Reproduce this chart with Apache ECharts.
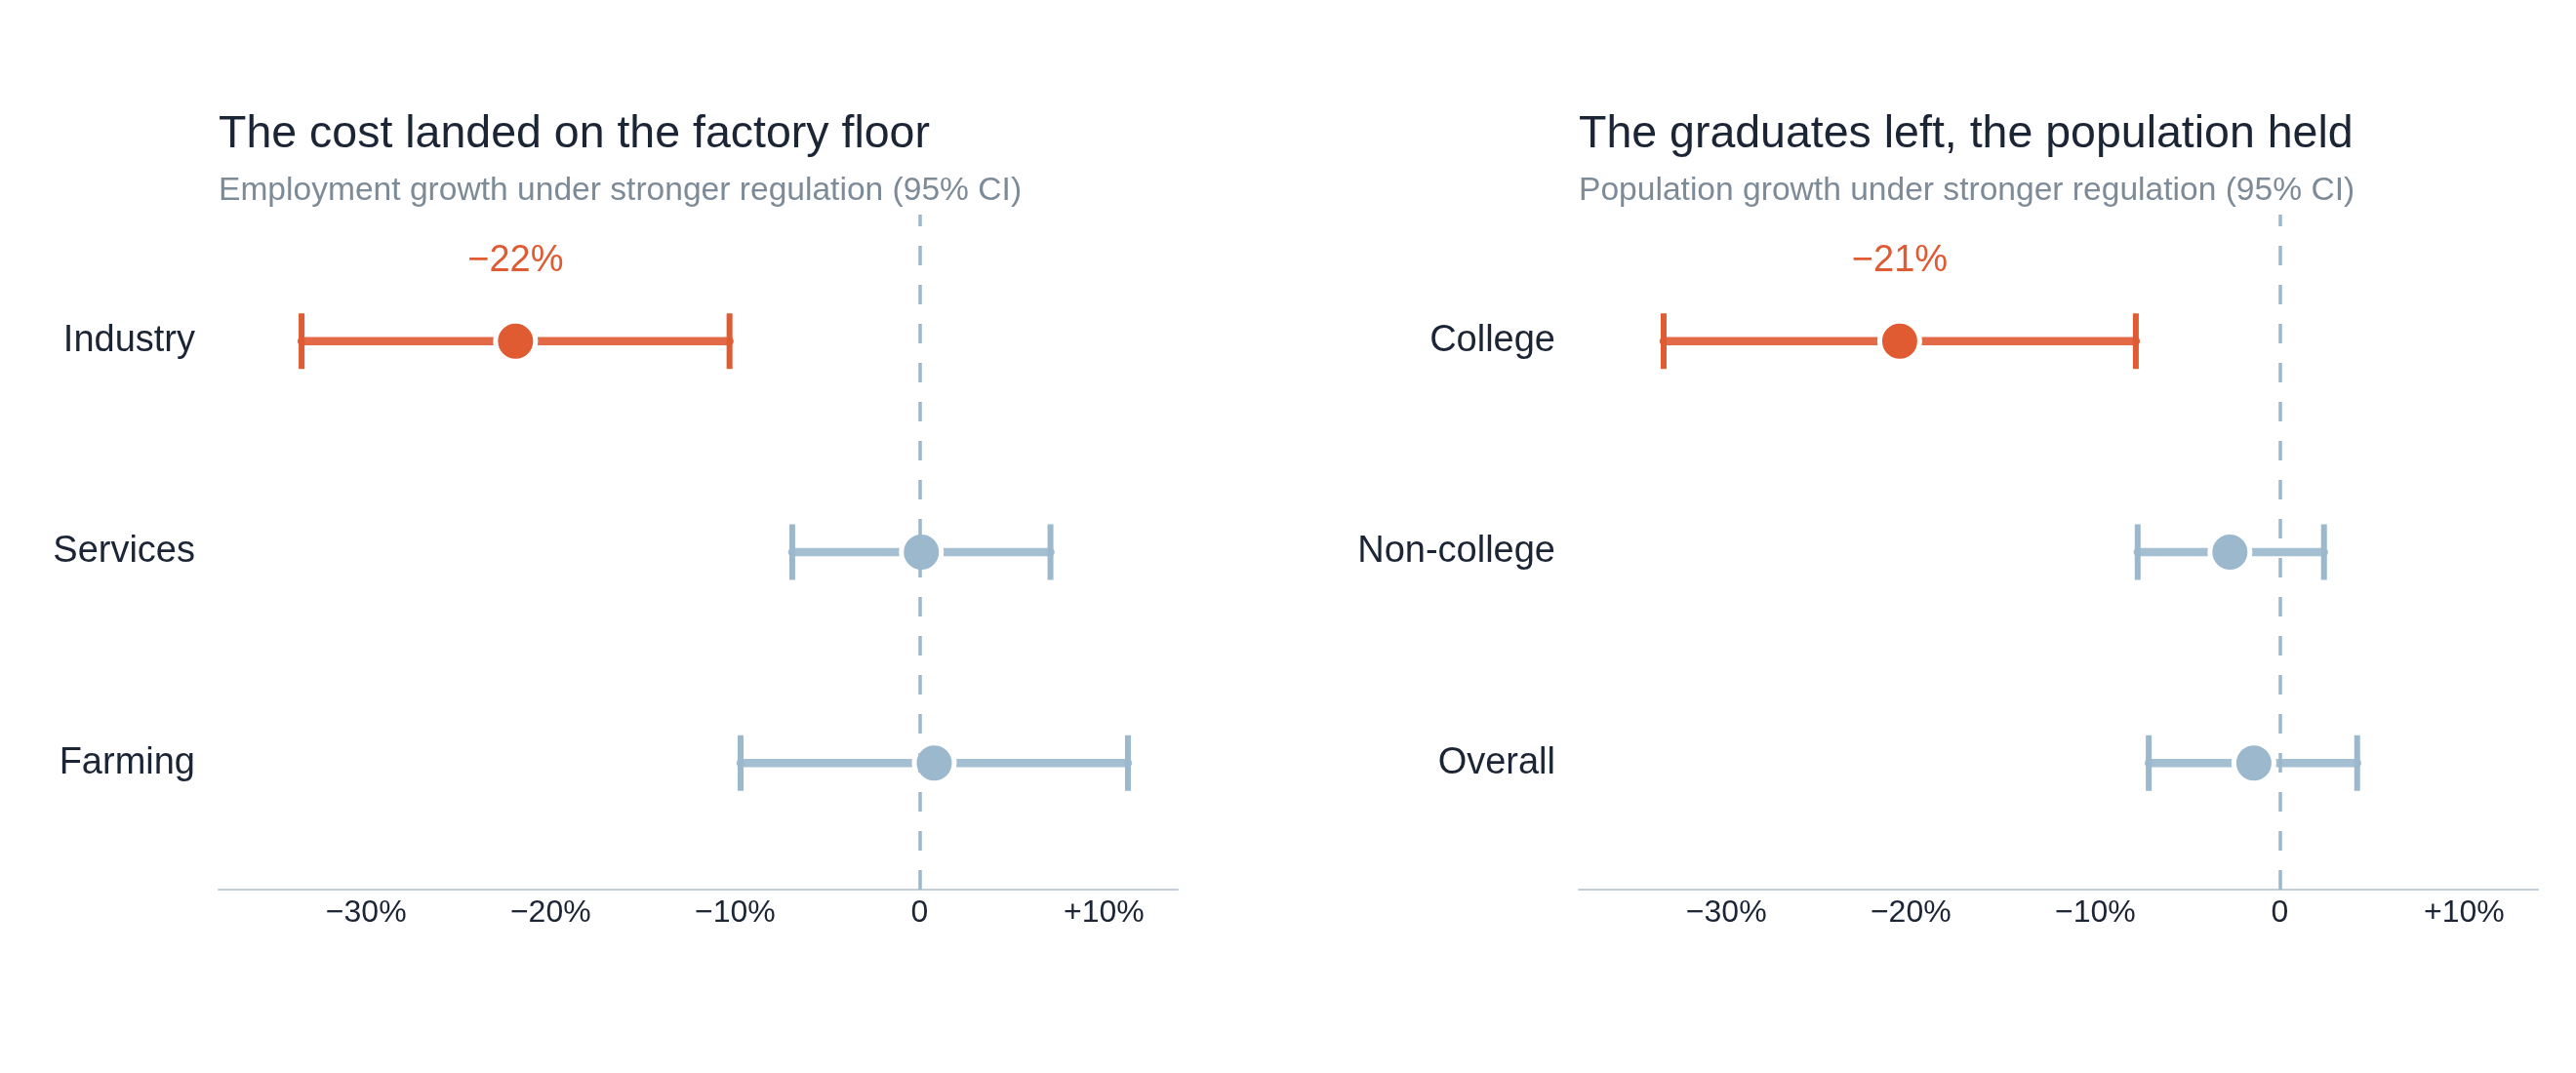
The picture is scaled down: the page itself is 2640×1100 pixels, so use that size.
<!DOCTYPE html>
<html>
<head>
<meta charset="utf-8">
<title>Regulation effects</title>
<script src="https://cdn.jsdelivr.net/npm/echarts@6.0.0/dist/echarts.min.js"></script>
<style>
  html, body { margin: 0; padding: 0; background: #fff; }
  #main { width: 2640px; height: 1100px; }
</style>
</head>
<body>
<div id="main"></div>
<script>
// employment panel
var empCats = ['Industry', 'Services', 'Farming'];
var empEst = [-21.9, 0.1, 0.8];
var empLo = [-33.5, -6.9, -9.7];
var empHi = [-10.3, 7.1, 11.3];

// population panel
var popCats = ['College', 'Non-college', 'Overall'];
var popEst = [-20.6, -2.7, -1.4];
var popLo = [-33.4, -7.7, -7.1];
var popHi = [-7.8, 2.4, 4.2];

var xTicks = [-30, -20, -10, 0, 10];

var RED = '#e05a32';
var BLUE = '#9bb8cd';
var INK = '#1b2535';
var GREY = '#7d8b99';
var FONT = '"Liberation Sans", Arial, Helvetica, sans-serif';

function pct(v) {
  if (v === 0) return '0';
  return (v > 0 ? '+' : '\u2212') + Math.abs(v) + '%';
}

// red when the whole interval sits below zero
function colorOf(lo, hi, i) {
  return hi[i] < 0 ? RED : BLUE;
}

function barSeries(idx, lo, hi) {
  var data = [];
  for (var i = 0; i < lo.length; i++) data.push([lo[i], hi[i], i]);
  return {
    type: 'custom',
    xAxisIndex: idx,
    yAxisIndex: idx,
    silent: true,
    data: data,
    renderItem: function (params, api) {
      var y = api.value(2);
      var a = api.coord([api.value(0), y]);
      var b = api.coord([api.value(1), y]);
      var c = colorOf(lo, hi, params.dataIndex);
      return {
        type: 'group',
        children: [
          {type: 'line', shape: {x1: a[0], y1: a[1], x2: b[0], y2: b[1]},
            style: {stroke: c, lineWidth: 8.5, lineCap: 'round', opacity: 0.9}},
          {type: 'line', shape: {x1: a[0], y1: a[1] - 28.5, x2: a[0], y2: a[1] + 28.5},
            style: {stroke: c, lineWidth: 6}},
          {type: 'line', shape: {x1: b[0], y1: b[1] - 28.5, x2: b[0], y2: b[1] + 28.5},
            style: {stroke: c, lineWidth: 6}}
        ]
      };
    },
    markLine: {
      silent: true,
      symbol: 'none',
      label: {show: false},
      lineStyle: {color: BLUE, width: 3.5, type: [20, 20]},
      data: [[{coord: [0, 2.6]}, {coord: [0, -0.6]}]]
    },
    z: 2
  };
}

function dotSeries(idx, est, lo, hi) {
  var data = [];
  for (var i = 0; i < est.length; i++) {
    var c = colorOf(lo, hi, i);
    data.push({
      value: [est[i], i],
      itemStyle: {color: c},
      label: {show: c === RED}
    });
  }
  return {
    type: 'scatter',
    xAxisIndex: idx,
    yAxisIndex: idx,
    silent: true,
    symbolSize: 41,
    itemStyle: {borderColor: '#fff', borderWidth: 5, opacity: 1},
    label: {
      position: 'top',
      distance: 40,
      color: RED,
      fontSize: 38,
      fontFamily: FONT,
      formatter: function (p) { return pct(Math.round(p.value[0])); }
    },
    data: data,
    z: 3
  };
}

function xAxis(idx) {
  return {
    type: 'value',
    gridIndex: idx,
    min: -38,
    max: 14,
    axisLine: {show: true, onZero: false, lineStyle: {color: '#c1cdd9', width: 2}},
    axisTick: {show: false},
    splitLine: {show: false},
    axisLabel: {
      customValues: xTicks,
      color: INK,
      fontSize: 32,
      fontFamily: FONT,
      margin: 8,
      formatter: function (v) { return pct(v); }
    }
  };
}

function yAxis(idx, cats) {
  return {
    type: 'value',
    gridIndex: idx,
    min: -0.6,
    max: 2.6,
    inverse: true,
    axisLine: {show: false},
    axisTick: {show: false},
    splitLine: {show: false},
    axisLabel: {
      customValues: [0, 1, 2],
      color: INK,
      fontSize: 38,
      fontFamily: FONT,
      margin: 24,
      padding: [10, 0, 0, 0],
      formatter: function (v) { return cats[v]; }
    }
  };
}

var myChart = echarts.init(document.getElementById('main'));

myChart.setOption({
  backgroundColor: '#fff',
  animation: false,
  title: [
    {
      text: 'The cost landed on the factory floor',
      subtext: 'Employment growth under stronger regulation (95% CI)',
      left: 224, top: 115, padding: 0, itemGap: 17,
      textStyle: {color: INK, fontSize: 46.5, fontWeight: 'normal', fontFamily: FONT, lineHeight: 46},
      subtextStyle: {color: GREY, fontSize: 33.6, fontFamily: FONT, lineHeight: 34}
    },
    {
      text: 'The graduates left, the population held',
      subtext: 'Population growth under stronger regulation (95% CI)',
      left: 1618, top: 115, padding: 0, itemGap: 17,
      textStyle: {color: INK, fontSize: 46.5, fontWeight: 'normal', fontFamily: FONT, lineHeight: 46},
      subtextStyle: {color: GREY, fontSize: 33.6, fontFamily: FONT, lineHeight: 34}
    }
  ],
  grid: [
    {left: 224, width: 983, top: 220, bottom: 188, outerBoundsMode: 'none'},
    {left: 1618, width: 983, top: 220, bottom: 188, outerBoundsMode: 'none'}
  ],
  xAxis: [xAxis(0), xAxis(1)],
  yAxis: [yAxis(0, empCats), yAxis(1, popCats)],
  series: [
    barSeries(0, empLo, empHi),
    dotSeries(0, empEst, empLo, empHi),
    barSeries(1, popLo, popHi),
    dotSeries(1, popEst, popLo, popHi)
  ]
});
</script>
</body>
</html>
